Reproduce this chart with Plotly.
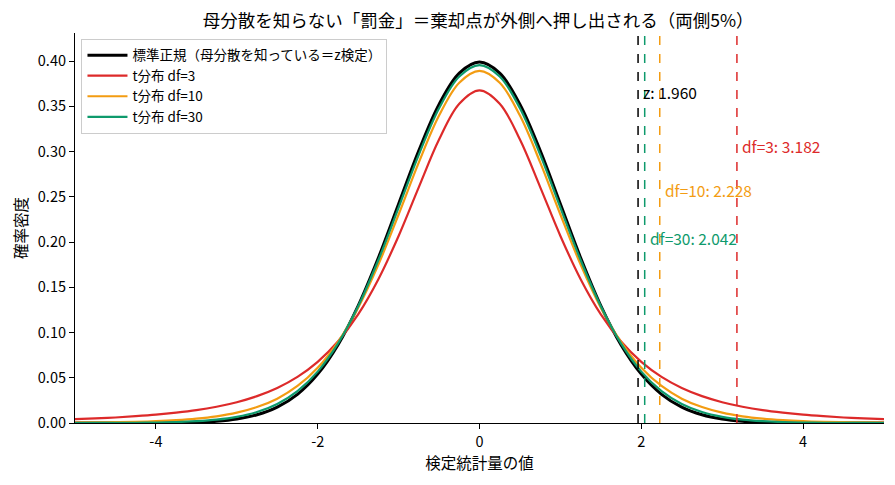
import plotly.graph_objects as go

# x grid used when reading the curves off the picture
x_vals = [-5.0, -4.75, -4.5, -4.25, -4.0, -3.75, -3.5, -3.25, -3.0, -2.75, -2.5,
          -2.25, -2.0, -1.75, -1.5, -1.25, -1.0, -0.75, -0.5, -0.25, 0.0,
          0.25, 0.5, 0.75, 1.0, 1.25, 1.5, 1.75, 2.0, 2.25, 2.5,
          2.75, 3.0, 3.25, 3.5, 3.75, 4.0, 4.25, 4.5, 4.75, 5.0]

# density values
normal_y = [0.0000, 0.0000, 0.0000, 0.0000, 0.0001, 0.0004, 0.0009, 0.0020, 0.0044, 0.0091, 0.0175,
            0.0317, 0.0540, 0.0863, 0.1295, 0.1826, 0.2420, 0.3011, 0.3521, 0.3867, 0.3989,
            0.3867, 0.3521, 0.3011, 0.2420, 0.1826, 0.1295, 0.0863, 0.0540, 0.0317, 0.0175,
            0.0091, 0.0044, 0.0020, 0.0009, 0.0004, 0.0001, 0.0000, 0.0000, 0.0000, 0.0000]
t3_y = [0.0042, 0.0051, 0.0061, 0.0075, 0.0092, 0.0114, 0.0142, 0.0180, 0.0230, 0.0297, 0.0387,
        0.0509, 0.0675, 0.0900, 0.1200, 0.1589, 0.2067, 0.2607, 0.3132, 0.3528, 0.3676,
        0.3528, 0.3132, 0.2607, 0.2067, 0.1589, 0.1200, 0.0900, 0.0675, 0.0509, 0.0387,
        0.0297, 0.0230, 0.0180, 0.0142, 0.0114, 0.0092, 0.0075, 0.0061, 0.0051, 0.0042]
t10_y = [0.0004, 0.0006, 0.0009, 0.0013, 0.0020, 0.0031, 0.0048, 0.0074, 0.0114, 0.0176, 0.0269,
         0.0409, 0.0611, 0.0895, 0.1274, 0.1751, 0.2304, 0.2880, 0.3397, 0.3760, 0.3891,
         0.3760, 0.3397, 0.2880, 0.2304, 0.1751, 0.1274, 0.0895, 0.0611, 0.0409, 0.0269,
         0.0176, 0.0114, 0.0074, 0.0048, 0.0031, 0.0020, 0.0013, 0.0009, 0.0006, 0.0004]
t30_y = [0.0000, 0.0001, 0.0001, 0.0003, 0.0005, 0.0010, 0.0020, 0.0037, 0.0068, 0.0121, 0.0211,
         0.0353, 0.0568, 0.0877, 0.1290, 0.1801, 0.2380, 0.2966, 0.3478, 0.3830, 0.3956,
         0.3830, 0.3478, 0.2966, 0.2380, 0.1801, 0.1290, 0.0877, 0.0568, 0.0353, 0.0211,
         0.0121, 0.0068, 0.0037, 0.0020, 0.0010, 0.0005, 0.0003, 0.0001, 0.0001, 0.0000]

# critical values (two-sided 5%) and where their labels sit
crit_names = ['z', 'df=3', 'df=10', 'df=30']
crit_vals = [1.960, 3.182, 2.228, 2.042]
label_y = [0.366, 0.306, 0.257, 0.205]

FONT = 'Noto Sans CJK JP'
colors = {'z': 'black', 'df=3': '#dd2a2a', 'df=10': '#f39c12', 'df=30': '#0e9a6c'}

fig = go.Figure()
fig.add_trace(go.Scatter(x=x_vals, y=normal_y, mode='lines', line_shape='spline',
                         name='標準正規（母分散を知っている＝z検定）', line=dict(color='black', width=3)))
fig.add_trace(go.Scatter(x=x_vals, y=t3_y, mode='lines', line_shape='spline',
                         name='t分布 df=3', line=dict(color=colors['df=3'], width=2.2)))
fig.add_trace(go.Scatter(x=x_vals, y=t10_y, mode='lines', line_shape='spline',
                         name='t分布 df=10', line=dict(color=colors['df=10'], width=2.2)))
fig.add_trace(go.Scatter(x=x_vals, y=t30_y, mode='lines', line_shape='spline',
                         name='t分布 df=30', line=dict(color=colors['df=30'], width=2.2)))

# dashed critical lines + labels
for name, cv, ly in zip(crit_names, crit_vals, label_y):
    fig.add_vline(x=cv, line=dict(color=colors[name], width=1.5, dash='dash'))
    fig.add_annotation(x=cv, y=ly, text=f'{name}: {cv:.3f}', showarrow=False,
                       xanchor='left', yanchor='middle', xshift=3,
                       font=dict(family=FONT, size=15.5, color=colors[name]))

# page body has an 8px margin, so the figure is a bit smaller than the window
fig.update_layout(
    width=887, height=477,
    margin=dict(l=67, r=11, t=25, b=62),
    plot_bgcolor='white', paper_bgcolor='white',
    font=dict(family=FONT, size=14.5, color='black'),
    title=dict(text='母分散を知らない「罰金」＝棄却点が外側へ押し出される（両側5%）',
               x=0.53, xanchor='center', y=0.972, yanchor='middle',
               font=dict(family=FONT, size=17.5)),
    showlegend=True,
    legend=dict(x=0.008, y=0.985, xanchor='left', yanchor='top',
                bordercolor='#cccccc', borderwidth=1, bgcolor='rgba(255,255,255,0.8)',
                font=dict(family=FONT, size=13.5), tracegroupgap=0, itemwidth=40),
    xaxis=dict(range=[-5, 5], tickvals=[-4, -2, 0, 2, 4], ticktext=['-4', '-2', '0', '2', '4'],
               showgrid=False, zeroline=False, showline=True, linecolor='black', linewidth=1.2,
               ticks='outside', ticklen=5, tickcolor='black',
               title=dict(text='検定統計量の値', font=dict(family=FONT, size=15.5), standoff=8)),
    yaxis=dict(range=[0, 0.431], tickvals=[0, 0.05, 0.10, 0.15, 0.20, 0.25, 0.30, 0.35, 0.40],
               tickformat='.2f', showgrid=False, zeroline=False, showline=True,
               linecolor='black', linewidth=1.2, ticks='outside', ticklen=5, tickcolor='black',
               title=dict(text='確率密度', font=dict(family=FONT, size=15.5), standoff=6)),
)

fig.write_html('out.html')
